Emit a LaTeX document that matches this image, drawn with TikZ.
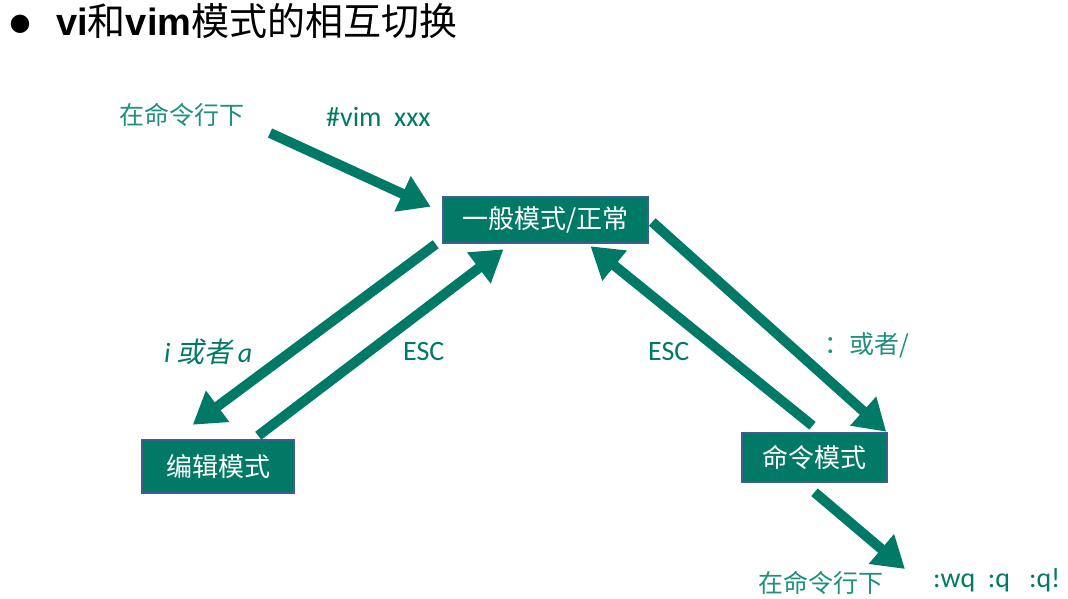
\documentclass[tikz,border=0pt]{standalone}
\usepackage{fontspec}
\setmainfont{Carlito}
\newfontfamily\cjk{Noto Sans CJK SC}
\newfontfamily\cjkit[FakeSlant=0.2]{Noto Sans CJK SC}
\newfontfamily\titlefont{Liberation Sans}
\newfontfamily\symfont{DejaVu Sans}
\usepackage{xcolor}
\usetikzlibrary{arrows.meta,calc,positioning}
\definecolor{vimteal}{HTML}{007A66}
\definecolor{vimtext}{HTML}{1F8F7E}
\definecolor{vimedge}{HTML}{3F5E8E}
\tikzset{
  modebox/.style={draw=vimedge, line width=2.5pt, fill=vimteal, text=white, font=\cjk\fontsize{26}{28}\selectfont, inner sep=0pt},
  lbl_cn/.style={inner sep=0pt, anchor=west, text=vimtext, font=\cjk\fontsize{25}{27}\selectfont},
  lbl_en/.style={inner sep=0pt, anchor=west, text=vimteal, font=\fontsize{28}{30}\selectfont},
  fatarrow/.style={draw=vimteal, line width=10pt, -{Triangle[width=37pt,length=31pt]}}
}

\begin{document}
\begin{tikzpicture}[x=1pt,y=-1pt]
	\useasboundingbox (0,0) rectangle (1068,599);
	% title
	\node[inner sep=0pt] (dot) at (20,24) {\symfont\fontsize{24}{26}\selectfont ●};
	\node[inner sep=0pt, anchor=west] (title) at (56,21)
		{\fontsize{38}{40}\selectfont\titlefont\bfseries vi{\cjk\mdseries 和}vim{\cjk\mdseries 模式的相互切换}};

	% modes
	\node[modebox, minimum width=205pt, minimum height=46pt] (normal) at (545.5,220) {一般模式/正常};
	\node[modebox, minimum width=152pt, minimum height=53pt] (edit) at (218,466.5) {编辑模式};
	\node[modebox, minimum width=145pt, minimum height=49pt] (cmd) at (814.5,457.5) {命令模式};

	% labels
	\node[lbl_cn] (shell1) at (119,115) {在命令行下};
	\node[lbl_en] (open) at (326,117) {\#vim\ \ xxx};
	\node[lbl_en, font=\itshape\fontsize{28}{30}\selectfont] (ia) at (164,352) {i {\cjkit 或者}\kern5pt a};
	\node[lbl_en] (esc1) at (403,352) {ESC};
	\node[lbl_en] (esc2) at (648,352) {ESC};
	\node[lbl_cn] (colon) at (824,345) {：或者/};
	\node[lbl_cn] (shell2) at (758,583) {在命令行下};
	\node[lbl_en] (quit) at (933,580) {:wq\ \ :q\ \ \ :q!};

	% arrows
	\coordinate (start) at (270,133);
	\coordinate (out) at (905,569);
	\draw[fatarrow] (start) -- ($(normal.north west)+(-11,11)$);
	\draw[fatarrow] ($(normal.south west)+(-6,0)$) -- ($(edit.north west)+(52,-14)$);
	\draw[fatarrow] ($(edit.north east)+(-37,-3)$) -- ($(normal.south)+(-42,5)$);
	\draw[fatarrow] ($(cmd.north)+(-2,-6)$) -- ($(normal.south)+(45,2)$);
	\draw[fatarrow] ($(normal.east)+(3,2)$) -- ($(cmd.north east)+(-2,0)$);
	\draw[fatarrow] ($(cmd.south)+(0,9)$) -- (out);
\end{tikzpicture}
\end{document}
